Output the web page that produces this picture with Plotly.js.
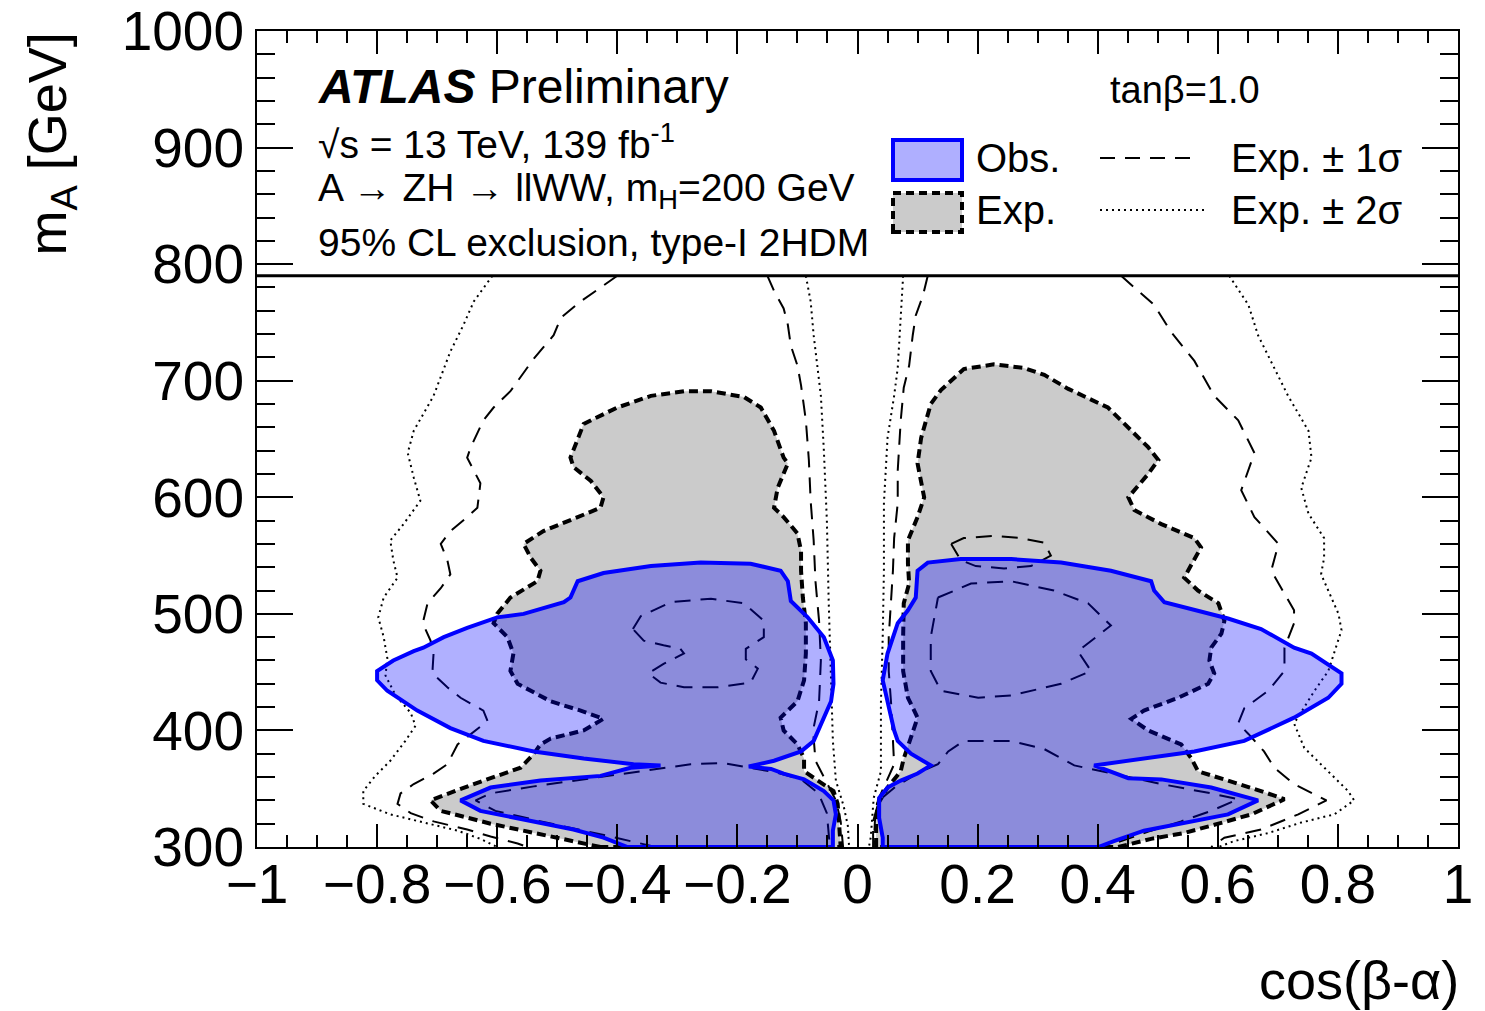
<!DOCTYPE html>
<html><head><meta charset="utf-8">
<script src="https://cdn.plot.ly/plotly-3.0.1.min.js"></script>
<style>html,body{margin:0;padding:0;background:#fff}</style>
</head><body><div id="chart" style="width:1485px;height:1011px"></div>
<script>
// ---- data: [cos(beta-alpha), m_A] ----
const expLeft = [[-0.428,300],[-0.473,305],[-0.550,314],[-0.611,320],[-0.694,331],[-0.711,340],[-0.639,354],[-0.561,368],[-0.539,380],[-0.528,388],[-0.511,393],[-0.456,400],[-0.423,410],[-0.461,417],[-0.511,425],[-0.566,440],[-0.578,451],[-0.573,466],[-0.583,480],[-0.606,492],[-0.600,500],[-0.578,514],[-0.533,528],[-0.528,537],[-0.544,548],[-0.556,560],[-0.523,571],[-0.466,583],[-0.428,591],[-0.423,600],[-0.444,614],[-0.473,626],[-0.478,634],[-0.456,663],[-0.400,677],[-0.344,687],[-0.289,691],[-0.244,691],[-0.189,686],[-0.161,677],[-0.139,657],[-0.123,634],[-0.116,629],[-0.133,608],[-0.139,591],[-0.123,583],[-0.100,569],[-0.094,554],[-0.094,537],[-0.091,514],[-0.086,492],[-0.086,466],[-0.089,443],[-0.100,425],[-0.128,411],[-0.123,400],[-0.100,388],[-0.089,376],[-0.089,365],[-0.066,357],[-0.040,348],[-0.033,337],[-0.031,322],[-0.028,300]];
const obsLeft = [[-0.383,300],[-0.423,308],[-0.473,315],[-0.539,322],[-0.628,331],[-0.661,340],[-0.611,351],[-0.528,357],[-0.428,361],[-0.378,368],[-0.328,370],[-0.373,371],[-0.456,376],[-0.539,382],[-0.623,391],[-0.678,402],[-0.733,417],[-0.783,434],[-0.800,443],[-0.800,451],[-0.773,460],[-0.739,468],[-0.723,471],[-0.689,480],[-0.650,488],[-0.600,497],[-0.556,500],[-0.489,510],[-0.478,514],[-0.466,528],[-0.423,535],[-0.344,541],[-0.261,544],[-0.178,543],[-0.128,537],[-0.116,528],[-0.111,511],[-0.083,497],[-0.056,480],[-0.041,460],[-0.040,440],[-0.044,425],[-0.061,406],[-0.073,391],[-0.094,382],[-0.139,374],[-0.181,369],[-0.144,367],[-0.123,363],[-0.089,358],[-0.056,348],[-0.040,340],[-0.036,328],[-0.041,314],[-0.041,300]];
const m1LeftOuter = [[-0.400,790],[-0.461,768],[-0.494,754],[-0.506,739],[-0.539,719],[-0.578,691],[-0.606,677],[-0.623,666],[-0.644,643],[-0.650,634],[-0.628,612],[-0.633,591],[-0.650,583],[-0.678,571],[-0.694,560],[-0.683,546],[-0.678,534],[-0.694,522],[-0.716,509],[-0.724,492],[-0.711,477],[-0.706,466],[-0.708,449],[-0.683,437],[-0.661,428],[-0.623,417],[-0.616,408],[-0.650,394],[-0.666,388],[-0.683,371],[-0.706,363],[-0.739,354],[-0.761,346],[-0.766,337],[-0.744,329],[-0.706,322],[-0.650,315],[-0.611,309],[-0.566,303],[-0.550,300]];
const m2LeftOuter = [[-0.608,790],[-0.639,768],[-0.656,748],[-0.678,725],[-0.706,687],[-0.739,657],[-0.749,638],[-0.739,617],[-0.728,597],[-0.756,577],[-0.778,563],[-0.773,546],[-0.766,531],[-0.789,514],[-0.798,497],[-0.789,480],[-0.783,462],[-0.786,447],[-0.769,430],[-0.744,415],[-0.736,404],[-0.753,391],[-0.778,374],[-0.803,361],[-0.823,348],[-0.823,337],[-0.778,328],[-0.723,321],[-0.666,314],[-0.628,307],[-0.600,300]];
const p1LeftIsland = [[-0.374,487],[-0.361,498],[-0.311,510],[-0.244,513],[-0.189,509],[-0.156,494],[-0.156,480],[-0.186,470],[-0.186,461],[-0.166,453],[-0.178,441],[-0.233,437],[-0.289,437],[-0.328,441],[-0.348,449],[-0.323,457],[-0.289,466],[-0.295,470],[-0.323,473],[-0.356,477],[-0.374,487]];
const p1LeftLow = [[-0.336,300],[-0.411,309],[-0.519,321],[-0.603,331],[-0.636,340],[-0.611,346],[-0.539,352],[-0.456,358],[-0.361,365],[-0.278,371],[-0.223,372],[-0.178,368],[-0.136,364],[-0.094,358],[-0.065,346],[-0.051,329],[-0.048,314],[-0.046,300]];
const m1LeftInner = [[-0.150,790],[-0.139,777],[-0.123,762],[-0.116,748],[-0.111,730],[-0.100,713],[-0.094,696],[-0.086,666],[-0.081,632],[-0.078,597],[-0.073,563],[-0.070,528],[-0.064,494],[-0.061,460],[-0.064,425],[-0.074,400],[-0.070,374],[-0.053,357],[-0.036,340],[-0.028,322],[-0.024,300]];
const m2LeftInner = [[-0.086,790],[-0.078,768],[-0.073,739],[-0.066,711],[-0.061,687],[-0.056,640],[-0.051,580],[-0.048,511],[-0.044,443],[-0.041,391],[-0.036,357],[-0.023,335],[-0.016,318],[-0.014,300]];

const expRight = [[0.031,300],[0.031,322],[0.034,337],[0.050,351],[0.072,365],[0.077,376],[0.089,394],[0.100,411],[0.084,428],[0.076,451],[0.076,480],[0.077,509],[0.086,526],[0.084,543],[0.084,563],[0.100,583],[0.111,600],[0.100,629],[0.106,651],[0.122,680],[0.139,692],[0.177,710],[0.227,714],[0.277,711],[0.311,705],[0.351,693],[0.417,677],[0.451,660],[0.484,643],[0.501,632],[0.484,620],[0.451,600],[0.461,589],[0.506,577],[0.561,565],[0.572,557],[0.556,543],[0.544,531],[0.567,520],[0.601,509],[0.611,494],[0.606,483],[0.589,471],[0.586,460],[0.594,449],[0.584,440],[0.534,428],[0.477,417],[0.456,410],[0.484,400],[0.539,388],[0.556,376],[0.567,365],[0.617,357],[0.672,348],[0.711,341],[0.656,328],[0.601,320],[0.544,312],[0.489,307],[0.434,300]];
const obsRight = [[0.042,300],[0.042,308],[0.036,325],[0.036,342],[0.050,351],[0.072,357],[0.100,363],[0.122,370],[0.089,380],[0.067,391],[0.061,400],[0.050,423],[0.042,443],[0.050,466],[0.067,492],[0.084,503],[0.097,514],[0.100,537],[0.117,544],[0.172,547],[0.256,547],[0.339,544],[0.422,537],[0.489,528],[0.494,520],[0.511,510],[0.561,503],[0.617,496],[0.672,487],[0.727,471],[0.756,466],[0.806,449],[0.806,440],[0.784,428],[0.727,411],[0.644,391],[0.561,382],[0.477,376],[0.394,370],[0.451,359],[0.506,358],[0.589,351],[0.667,340],[0.617,328],[0.534,320],[0.477,314],[0.427,305],[0.401,300]];
const m1RightOuter = [[0.439,790],[0.494,765],[0.522,742],[0.561,717],[0.594,687],[0.634,666],[0.661,638],[0.639,606],[0.661,583],[0.701,560],[0.689,537],[0.706,522],[0.727,503],[0.727,492],[0.711,471],[0.711,451],[0.684,434],[0.644,419],[0.634,406],[0.651,397],[0.677,382],[0.694,368],[0.727,354],[0.781,340],[0.734,328],[0.672,315],[0.611,308],[0.589,300]];
const m2RightOuter = [[0.619,790],[0.651,765],[0.667,739],[0.694,711],[0.717,687],[0.751,657],[0.756,634],[0.739,608],[0.751,586],[0.777,565],[0.777,548],[0.772,534],[0.784,520],[0.801,500],[0.806,486],[0.794,466],[0.784,451],[0.761,434],[0.727,406],[0.744,385],[0.784,365],[0.817,348],[0.827,340],[0.794,328],[0.739,321],[0.684,312],[0.627,305],[0.601,300]];
const p1RightIsland = [[0.134,514],[0.189,526],[0.256,528],[0.327,520],[0.384,509],[0.422,490],[0.367,468],[0.389,451],[0.339,440],[0.256,430],[0.201,428],[0.139,434],[0.122,451],[0.122,480],[0.134,514]];
const p1RightCrescent = [[0.156,560],[0.177,565],[0.227,567],[0.272,565],[0.311,561],[0.322,550],[0.289,541],[0.244,539],[0.197,541],[0.172,546],[0.156,560]];
const p1RightLow = [[0.026,300],[0.026,322],[0.036,340],[0.064,352],[0.106,365],[0.134,371],[0.151,382],[0.177,391],[0.256,391],[0.311,384],[0.361,370],[0.427,363],[0.506,354],[0.589,346],[0.634,341],[0.589,331],[0.539,322],[0.489,314],[0.439,305],[0.405,300]];
const m1RightInner = [[0.117,790],[0.109,773],[0.097,756],[0.092,739],[0.086,713],[0.077,694],[0.072,666],[0.067,623],[0.067,595],[0.061,565],[0.059,537],[0.056,509],[0.052,480],[0.052,451],[0.056,423],[0.061,371],[0.044,351],[0.034,340],[0.029,322],[0.027,300]];
const m2RightInner = [[0.076,790],[0.072,753],[0.067,711],[0.061,687],[0.050,651],[0.044,595],[0.044,537],[0.042,480],[0.039,423],[0.039,365],[0.027,342],[0.022,308],[0.019,300]];

const xTickVals = [-1,-0.8,-0.6,-0.4,-0.2,0,0.2,0.4,0.6,0.8,1];
const xTickText = ['\u22121','\u22120.8','\u22120.6','\u22120.4','\u22120.2','0','0.2','0.4','0.6','0.8','1'];
const yTickVals = [300,400,500,600,700,800,900,1000];
const legendCut = 790;

// ---- drawing ----
const FONT = 'Liberation Sans, Arial, Helvetica, sans-serif';
const xs = a => a.map(p => p[0]);
const ys = a => a.map(p => p[1]);
const GRAY = '#cbcbcb';
const BLUEFILL = 'rgba(0,0,255,0.31)';

function polyFill(pts, fillcolor, lineColor, width, dash) {
  const closed = pts.concat([pts[0]]);
  return {x: xs(closed), y: ys(closed), type: 'scatter', mode: 'lines', fill: 'toself',
    fillcolor: fillcolor, line: {color: lineColor, width: width, dash: dash}, hoverinfo: 'skip'};
}
function curve(pts, width, dash) {
  return {x: xs(pts), y: ys(pts), type: 'scatter', mode: 'lines', fill: 'none',
    line: {color: '#000', width: width, dash: dash}, hoverinfo: 'skip'};
}
const EXPDASH = '9px,5px';
const S1DASH = '16px,10px';
const S2DASH = '2px,4px';

const traces = [
  polyFill(expLeft, GRAY, '#000', 4, EXPDASH),
  polyFill(expRight, GRAY, '#000', 4, EXPDASH),
  curve(m1LeftOuter, 2, S1DASH), curve(m1LeftInner, 2, S1DASH),
  curve(p1LeftIsland, 2, S1DASH), curve(p1LeftLow, 2, S1DASH),
  curve(m1RightOuter, 2, S1DASH), curve(m1RightInner, 2, S1DASH),
  curve(p1RightIsland, 2, S1DASH), curve(p1RightCrescent, 2, S1DASH), curve(p1RightLow, 2, S1DASH),
  curve(m2LeftOuter, 2, S2DASH), curve(m2LeftInner, 2, S2DASH),
  curve(m2RightOuter, 2, S2DASH), curve(m2RightInner, 2, S2DASH),
  polyFill(obsLeft, BLUEFILL, '#0000ff', 4, 'solid'),
  polyFill(obsRight, BLUEFILL, '#0000ff', 4, 'solid')
];

const W = 1485, H = 1011, L = 257, R = 27, T = 31, B = 164;
const pw = W - L - R, ph = H - T - B;
const px = v => (v - L) / pw;       // pixel -> paper x
const py = v => (H - B - v) / ph;   // pixel -> paper y

const axisCommon = {
  showgrid: false, zeroline: false, showline: true, linecolor: '#000', linewidth: 2,
  mirror: 'ticks', ticks: 'inside', tickcolor: '#000', tickwidth: 2,
  tickfont: {family: FONT, size: 55, color: '#000'}, fixedrange: true
};

const annText = (text, x, y, size, xanchor, extra) => Object.assign({
  text: text, xref: 'paper', yref: 'paper', x: x, y: y, xanchor: xanchor || 'left', yanchor: 'middle',
  showarrow: false, font: {family: FONT, size: size, color: '#000'}
}, extra || {});

const layout = {
  width: W, height: H, margin: {l: L, r: R, t: T, b: B},
  paper_bgcolor: '#fff', plot_bgcolor: '#fff', showlegend: false, hovermode: false,
  xaxis: Object.assign({}, axisCommon, {range: [-1, 1], tickvals: xTickVals, ticktext: xTickText, ticklen: 23,
    ticklabelstandoff: -12,
    minor: {dtick: 0.05, tick0: 0, ticks: 'inside', ticklen: 12, tickcolor: '#000', tickwidth: 2}}),
  yaxis: Object.assign({}, axisCommon, {range: [300, 1000], tickvals: yTickVals, ticklen: 36,
    minor: {dtick: 20, tick0: 300, ticks: 'inside', ticklen: 18, tickcolor: '#000', tickwidth: 2}}),
  shapes: [
    {type: 'line', xref: 'paper', yref: 'y', x0: 0, x1: 1, y0: legendCut, y1: legendCut, line: {color: '#000', width: 3}},
    {type: 'rect', xref: 'paper', yref: 'paper', x0: px(893), x1: px(962), y0: py(180), y1: py(140),
      fillcolor: 'rgb(175,175,255)', line: {color: '#0000ff', width: 4}},
    {type: 'rect', xref: 'paper', yref: 'paper', x0: px(893), x1: px(962), y0: py(232), y1: py(193),
      fillcolor: GRAY, line: {color: '#000', width: 4, dash: '8px,5px'}},
    {type: 'line', xref: 'paper', yref: 'paper', x0: px(1100), x1: px(1196), y0: py(158), y1: py(158),
      line: {color: '#000', width: 2, dash: '15px,10px'}},
    {type: 'line', xref: 'paper', yref: 'paper', x0: px(1100), x1: px(1208), y0: py(210), y1: py(210),
      line: {color: '#000', width: 2, dash: '2px,4px'}}
  ],
  annotations: [
    annText('<b><i>ATLAS</i></b> Preliminary', px(316), py(87), 48),
    annText('\u221As = 13 TeV, 139 fb<sup>-1</sup>', px(316), py(142), 39),
    annText('A \u2192 ZH \u2192 llWW, m<sub>H</sub>=200 GeV', px(316), py(191), 39),
    annText('95% CL exclusion, type-I 2HDM', px(316), py(243), 39),
    annText('tan\u03B2=1.0', px(1185), py(90), 38, 'center'),
    annText('Obs.', px(974), py(158), 40),
    annText('Exp.', px(974), py(210), 40),
    annText('Exp. \u00B1 1\u03C3', px(1229), py(158), 40),
    annText('Exp. \u00B1 2\u03C3', px(1229), py(210), 40),
    annText('cos(\u03B2-\u03B1)', px(1461), py(980), 54, 'right'),
    annText('m<sub>A</sub> [GeV]', px(50), 1, 54, 'center', {yanchor: 'top', textangle: -90})
  ]
};

Plotly.newPlot('chart', traces, layout, {staticPlot: true, displayModeBar: false});
</script></body></html>
